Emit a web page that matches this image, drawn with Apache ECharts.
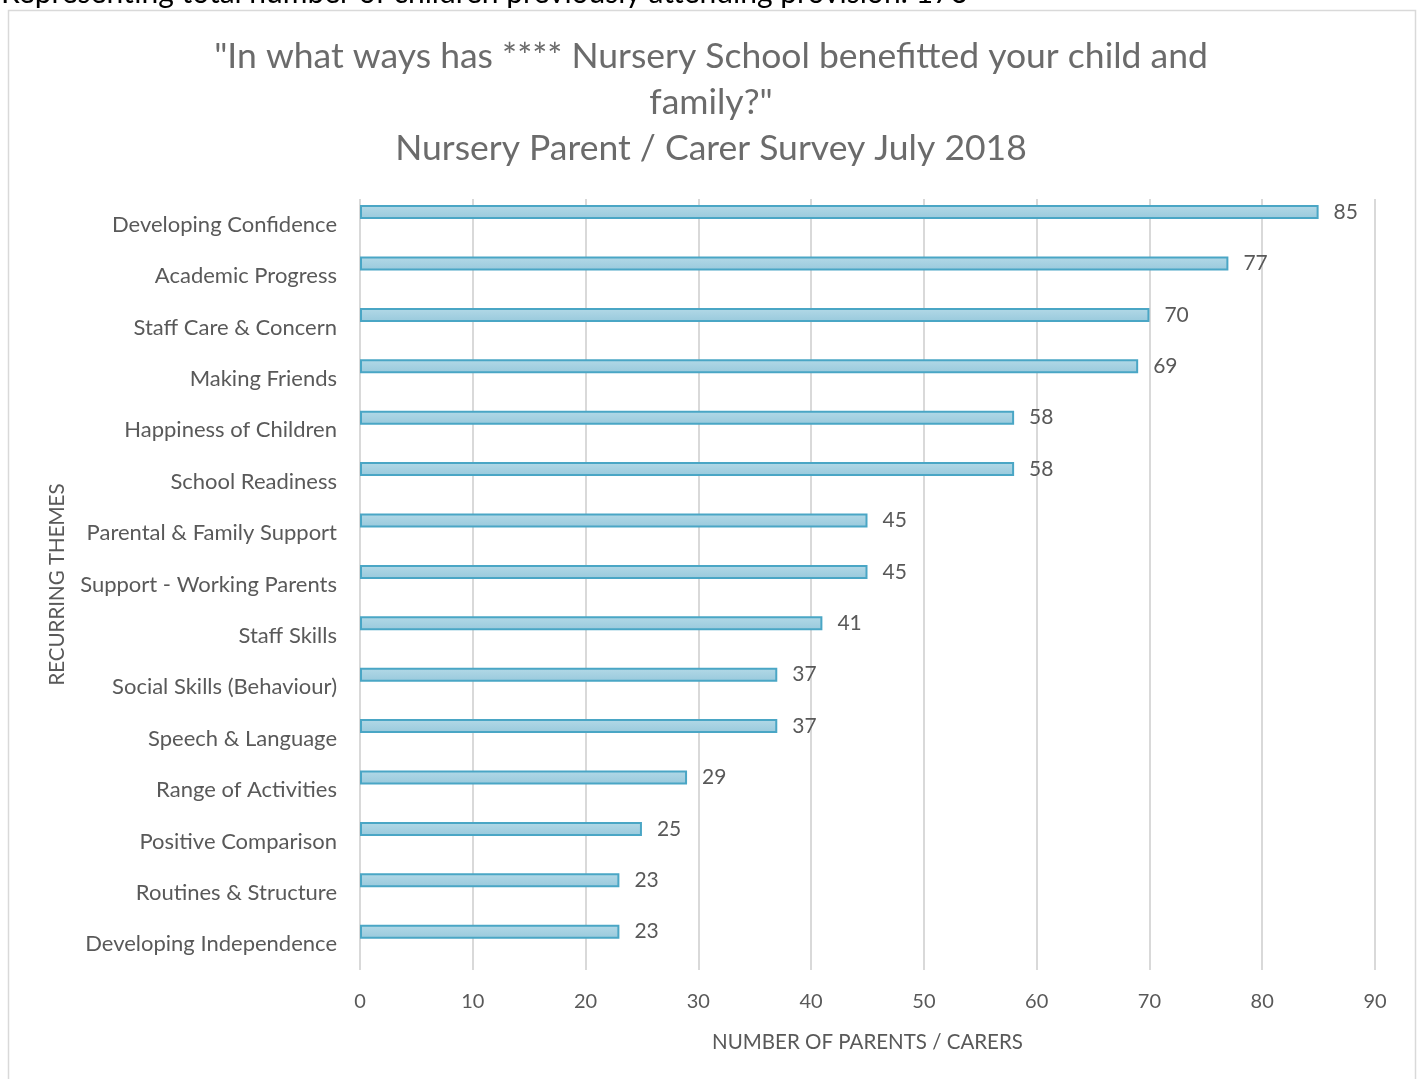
<!DOCTYPE html>
<html>
<head>
<meta charset="utf-8">
<script src="https://cdn.jsdelivr.net/npm/echarts@6/dist/echarts.min.js"></script>
<style>
  html, body { margin: 0; padding: 0; background: #fff; }
  #chart { width: 1422px; height: 1079px; }
</style>
</head>
<body>
<div id="chart"></div>
<script>
// Survey themes, listed top to bottom as they appear on the chart
const themes = [
  'Developing Confidence',
  'Academic Progress',
  'Staff Care & Concern',
  'Making Friends',
  'Happiness of Children',
  'School Readiness',
  'Parental & Family Support',
  'Support - Working Parents',
  'Staff Skills',
  'Social Skills (Behaviour)',
  'Speech & Language',
  'Range of Activities',
  'Positive Comparison',
  'Routines & Structure',
  'Developing Independence'
];
const parentCounts = [85, 77, 70, 69, 58, 58, 45, 45, 41, 37, 37, 29, 25, 23, 23];
const valueTicks = [0, 10, 20, 30, 40, 50, 60, 70, 80, 90];

const titleLines = [
  '"In what ways has **** Nursery School benefitted your child and',
  'family?"',
  'Nursery Parent / Carer Survey July 2018'
];
const headerNote = 'Representing total number of children previously attending provision: 176';

const FONT = 'Lato, "Open Sans", sans-serif';
const GREY = '#595959';

const chart = echarts.init(document.getElementById('chart'), null, { renderer: 'canvas' });

chart.setOption({
  backgroundColor: '#ffffff',
  animation: false,
  title: {
    text: titleLines.join('\n'),
    left: 'center',
    top: 29,
    textStyle: {
      fontFamily: FONT,
      fontSize: 35.5,
      fontWeight: 'normal',
      color: '#6b6b6b',
      lineHeight: 46
    }
  },
  graphic: [
    {
      type: 'rect',
      shape: { x: 8.5, y: 10.5, width: 1407, height: 1100 },
      style: { fill: 'none', stroke: '#d9d9d9', lineWidth: 1.5 },
      silent: true
    },
    {
      type: 'text',
      x: 1,
      y: 8,
      style: {
        text: headerNote, fontFamily: FONT, fontSize: 30, fill: '#000',
        verticalAlign: 'bottom'
      },
      silent: true
    }
  ],
  grid: {
    left: 360,
    right: 1422 - 1375,
    top: 199,
    bottom: 1079 - 970,
    containLabel: false
  },
  xAxis: {
    type: 'value',
    min: 0,
    max: 90,
    interval: 10,
    name: 'NUMBER OF PARENTS / CARERS',
    nameLocation: 'middle',
    nameGap: 62,
    nameTextStyle: { fontFamily: FONT, fontSize: 20.5, color: GREY },
    axisLine: { show: false },
    axisTick: { show: false },
    axisLabel: {
      fontFamily: FONT, fontSize: 20, color: GREY, margin: 22,
      formatter: v => (valueTicks.includes(v) ? String(v) : '')
    },
    splitLine: { show: true, lineStyle: { color: '#d9d9d9', width: 2 } }
  },
  yAxis: {
    type: 'category',
    data: themes,
    inverse: true,
    name: 'RECURRING THEMES',
    nameLocation: 'middle',
    nameRotate: 90,
    nameGap: 292,
    nameTextStyle: { fontFamily: FONT, fontSize: 20.5, color: GREY },
    axisLine: { show: false },
    axisTick: { show: false },
    axisLabel: { fontFamily: FONT, fontSize: 22, color: GREY, margin: 23 },
    splitLine: { show: false }
  },
  series: [
    {
      name: 'Parents / Carers',
      type: 'bar',
      data: parentCounts,
      barWidth: 14,
      barGap: '80%',
      itemStyle: {
        color: new echarts.graphic.LinearGradient(0, 0, 0, 1, [
          { offset: 0, color: '#b3d9e7' },
          { offset: 1, color: '#98c9dc' }
        ]),
        borderColor: '#4aa6c5',
        borderWidth: 2
      },
      label: {
        show: true,
        position: 'right',
        distance: 15,
        fontFamily: FONT,
        fontSize: 21,
        color: GREY
      }
    },
    {
      // empty companion series keeps each bar in the upper slot of its row
      name: 'spacer',
      type: 'bar',
      data: themes.map(() => null),
      barWidth: 14,
      silent: true
    }
  ]
});
</script>
</body>
</html>
